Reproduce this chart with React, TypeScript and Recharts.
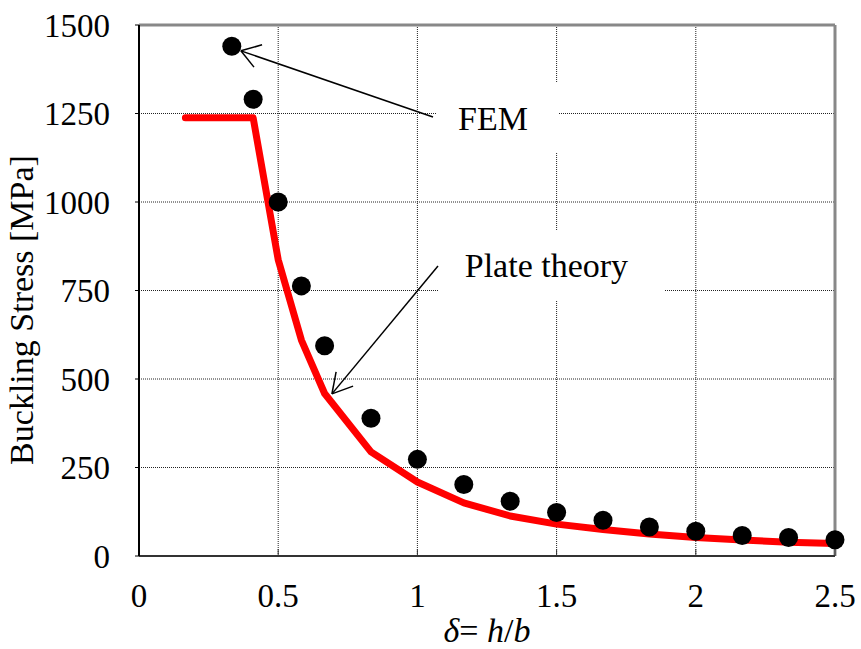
import React from "react";
import {
  ComposedChart,
  CartesianGrid,
  XAxis,
  YAxis,
  Line,
  Scatter,
  ReferenceLine,
  ReferenceArea,
} from "recharts";

const FONT = "Liberation Serif, Times New Roman, serif";
const serif = { fontFamily: FONT };

const xTicks = [0, 0.5, 1, 1.5, 2, 2.5];
const yTicks = [0, 250, 500, 750, 1000, 1250, 1500];

// FEM results (dots)
const femX = [0.3333, 0.41, 0.5, 0.5833, 0.6667, 0.8333, 1, 1.1667, 1.3333, 1.5, 1.6667, 1.8333, 2, 2.1667, 2.3333, 2.5];
const femY = [1440, 1290, 1000, 763, 594, 389, 273, 202, 155, 123, 101, 82, 70, 58, 52, 46];

// plate theory (red line)
const plateX = [0.1667, 0.41, 0.5, 0.5833, 0.6667, 0.8333, 1, 1.1667, 1.3333, 1.5, 1.6667, 1.8333, 2, 2.1667, 2.3333, 2.5];
const plateY = [1238, 1238, 837, 610, 459, 294, 209, 150, 113, 90, 75, 62, 52, 45, 39, 35];

const femData = femX.map((x, i) => ({ x, y: femY[i] }));
const plateData = plateX.map((x, i) => ({ x, y: plateY[i] }));

const Dot = (props: any) => <circle cx={props.cx} cy={props.cy} r={9.5} fill="#000" />;

const arrow = { stroke: "#000", strokeWidth: 1.5 };

export default function App() {
  return (
    <div style={{ position: "absolute", left: 0, top: 0, background: "#fff", fontFamily: FONT }}>
      <ComposedChart
        width={861}
        height={649}
        margin={{ top: 25, right: 26, bottom: 0, left: 0 }}
        style={serif}
      >
        <CartesianGrid stroke="#222" strokeDasharray="1 1" />
        <ReferenceArea
          x1={1.067}
          x2={1.505}
          y1={1141}
          y2={1336}
          fill="#fff"
          fillOpacity={1}
          stroke="none"
          label={{ value: "FEM", position: "center", dx: -4, fontSize: 34, style: serif, fill: "#000" }}
        />
        <ReferenceArea
          x1={1.074}
          x2={1.889}
          y1={723}
          y2={921}
          fill="#fff"
          fillOpacity={1}
          stroke="none"
          label={{ value: "Plate theory", position: "center", dx: -5, fontSize: 34, style: serif, fill: "#000" }}
        />
        <ReferenceLine y={1500} stroke="#888" strokeWidth={3} />
        <ReferenceLine x={2.5} stroke="#888" strokeWidth={3} />
        <XAxis
          dataKey="x"
          type="number"
          domain={[0, 2.5]}
          ticks={xTicks}
          height={93}
          axisLine={{ stroke: "#333", strokeWidth: 2 }}
          tickLine={{ stroke: "#333" }}
          tickSize={-7}
          tickMargin={35}
          tick={{ fontSize: 33, style: serif, fill: "#000" }}
          label={{
            content: (p: any) => {
              const vb = p.viewBox;
              return (
                <text
                  x={vb.x + vb.width / 2}
                  y={vb.y + 86}
                  textAnchor="middle"
                  fontSize={34}
                  style={serif}
                  fill="#000"
                >
                  <tspan fontStyle="italic">δ</tspan>
                  <tspan>= </tspan>
                  <tspan fontStyle="italic">h</tspan>
                  <tspan>/</tspan>
                  <tspan fontStyle="italic">b</tspan>
                </text>
              );
            },
          }}
        />
        <YAxis
          type="number"
          domain={[0, 1500]}
          ticks={yTicks}
          width={139}
          axisLine={{ stroke: "#000", strokeWidth: 2 }}
          tickLine={{ stroke: "#000" }}
          tickSize={4}
          tickMargin={25}
          tick={{ fontSize: 33, style: serif, fill: "#000" }}
          label={{
            content: () => (
              <text
                x={33}
                y={310}
                transform="rotate(-90 33 310)"
                textAnchor="middle"
                fontSize={34}
                style={serif}
                fill="#000"
              >
                Buckling Stress [MPa]
              </text>
            ),
          }}
        />
        <Line
          data={plateData}
          dataKey="y"
          type="linear"
          stroke="#ff0000"
          strokeWidth={7}
          strokeLinecap="round"
          strokeLinejoin="round"
          dot={false}
          activeDot={false}
          isAnimationActive={false}
        />
        <Scatter data={femData} dataKey="y" fill="#000" shape={Dot} isAnimationActive={false} />
        {/* FEM arrow */}
        <ReferenceLine segment={[{ x: 1.056, y: 1240 }, { x: 0.366, y: 1427 }]} {...arrow} />
        <ReferenceLine segment={[{ x: 0.442, y: 1444 }, { x: 0.366, y: 1427 }]} {...arrow} />
        <ReferenceLine segment={[{ x: 0.413, y: 1381 }, { x: 0.366, y: 1427 }]} {...arrow} />
        {/* plate theory arrow */}
        <ReferenceLine segment={[{ x: 1.074, y: 819 }, { x: 0.693, y: 458 }]} {...arrow} />
        <ReferenceLine segment={[{ x: 0.708, y: 520 }, { x: 0.693, y: 458 }]} {...arrow} />
        <ReferenceLine segment={[{ x: 0.769, y: 480 }, { x: 0.693, y: 458 }]} {...arrow} />
      </ComposedChart>
    </div>
  );
}
